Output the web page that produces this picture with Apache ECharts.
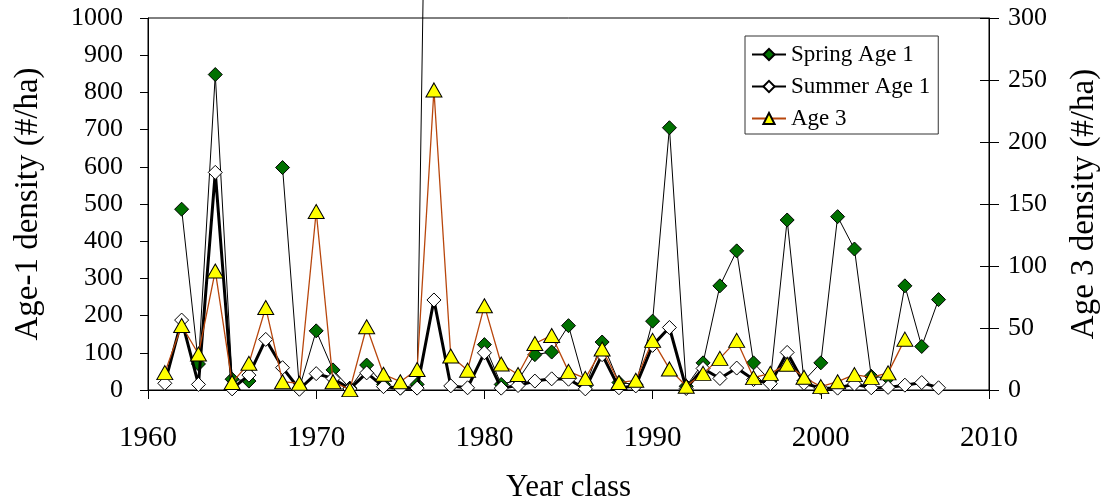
<!DOCTYPE html>
<html>
<head>
<meta charset="utf-8">
<script src="https://cdn.jsdelivr.net/npm/echarts@6/dist/echarts.min.js"></script>
<style>
  html, body { margin: 0; padding: 0; background: #fff; }
  #chart { width: 1109px; height: 502px; }
</style>
</head>
<body>
<div id="chart"></div>
<script>
// Year classes 1961..2007
const years = [1961,1962,1963,1964,1965,1966,1967,1968,1969,1970,
               1971,1972,1973,1974,1975,1976,1977,1978,1979,1980,
               1981,1982,1983,1984,1985,1986,1987,1988,1989,1990,
               1991,1992,1993,1994,1995,1996,1997,1998,1999,2000,
               2001,2002,2003,2004,2005,2006,2007];

// Spring Age 1 density (#/ha), left axis
const springAge1 = [null,486,70,848,29,24,null,598,5,159,
                    54,5,67,15,5,15,2950,null,null,122,
                    15,27,95,102,173,10,129,20,15,185,
                    705,10,73,280,374,73,25,457,25,73,
                    466,379,37,32,280,117,243];

// Summer Age 1 density (#/ha), left axis
const summerAge1 = [18,188,15,585,3,40,136,60,2,44,
                    31,3,46,9,5,5,242,11,6,100,
                    5,12,24,30,29,3,95,6,11,120,
                    168,4,58,31,59,28,17,101,18,5,
                    5,16,6,7,13,20,6];

// Age 3 density (#/ha), right axis (1961..2005)
const age3 = [14,52,29,96,6,21.5,66.5,6.7,5.4,144,
              6.7,0.3,51,12.7,6.7,16.5,242,27.4,16,68,
              21,12.5,37.5,44,15,9.4,33,6,7.8,40,
              17,3,13.4,25.5,40,10,13.4,20.7,10.3,2.7,
              6.7,12.4,10.2,13.8,41];

const xTicks = [1960, 1970, 1980, 1990, 2000, 2010];
const leftTicks = [0, 100, 1000];
const rightTicks = [0, 50, 300];

const pairs = (vals) => vals.map((v, i) => [years[i], v]);
const plain = (v) => String(v);

const FONT = "'Liberation Serif', 'Times New Roman', serif";

const chart = echarts.init(document.getElementById('chart'), null, { renderer: 'canvas' });

const option = {
  animation: false,
  backgroundColor: '#ffffff',
  textStyle: { fontFamily: FONT, color: '#000' },
  grid: {
    left: 148, right: 120, top: 18, bottom: 112,
    containLabel: false,
    outerBoundsMode: 'none',
    show: true, borderColor: '#000', borderWidth: 1, backgroundColor: 'transparent'
  },
  legend: {
    orient: 'vertical',
    left: 745, top: 36,
    backgroundColor: '#fff',
    borderColor: '#333', borderWidth: 1,
    padding: [7, 8, 4, 6],
    itemGap: 9,
    itemWidth: 34, itemHeight: 14,
    textStyle: { fontFamily: FONT, fontSize: 23, color: '#000' },
    data: ['Spring Age 1', 'Summer Age 1', 'Age 3']
  },
  xAxis: {
    type: 'value',
    min: xTicks[0], max: xTicks[xTicks.length - 1], interval: 10,
    name: 'Year class',
    nameLocation: 'middle',
    nameGap: 82,
    nameTextStyle: { fontFamily: FONT, fontSize: 31, color: '#000' },
    axisLine: { show: true, onZero: false, lineStyle: { color: '#000', width: 1 } },
    axisTick: { show: true, inside: false, length: 9, lineStyle: { color: '#000' } },
    axisLabel: { fontFamily: FONT, fontSize: 29, color: '#000', margin: 34, formatter: plain },
    splitLine: { show: false }
  },
  yAxis: [
    {
      type: 'value', position: 'left',
      min: leftTicks[0], max: leftTicks[2], interval: leftTicks[1],
      name: 'Age-1 density (#/ha)',
      nameLocation: 'middle', nameRotate: 90, nameGap: 103,
      nameTextStyle: { fontFamily: FONT, fontSize: 33, color: '#000' },
      axisLine: { show: true, lineStyle: { color: '#000', width: 1 } },
      axisTick: { show: true, inside: false, length: 8, lineStyle: { color: '#000' } },
      axisLabel: { fontFamily: FONT, fontSize: 26, color: '#000', margin: 25, formatter: plain },
      splitLine: { show: false }
    },
    {
      type: 'value', position: 'right',
      min: rightTicks[0], max: rightTicks[2], interval: rightTicks[1],
      name: 'Age 3 density (#/ha)',
      nameLocation: 'middle', nameRotate: 90, nameGap: 79,
      nameTextStyle: { fontFamily: FONT, fontSize: 33, color: '#000' },
      axisLine: { show: true, lineStyle: { color: '#000', width: 1 } },
      axisTick: { show: true, inside: false, length: 10, lineStyle: { color: '#000' } },
      axisLabel: { fontFamily: FONT, fontSize: 26, color: '#000', margin: 19, formatter: plain },
      splitLine: { show: false }
    },
    {
      type: 'value', position: 'right',
      min: rightTicks[0], max: rightTicks[2], interval: rightTicks[1],
      axisLine: { show: false },
      axisTick: { show: true, inside: true, length: 9, lineStyle: { color: '#000' } },
      axisLabel: { show: false },
      splitLine: { show: false }
    }
  ],
  series: [
    {
      name: 'Spring Age 1',
      type: 'line',
      yAxisIndex: 0,
      data: pairs(springAge1),
      clip: false,
      connectNulls: false,
      symbol: 'diamond',
      symbolSize: 14,
      lineStyle: { color: '#000', width: 1 },
      itemStyle: { color: '#007000', borderColor: '#000', borderWidth: 1 },
      z: 2
    },
    {
      name: 'Summer Age 1',
      type: 'line',
      yAxisIndex: 0,
      data: pairs(summerAge1),
      symbol: 'diamond',
      symbolSize: 14,
      lineStyle: { color: '#000', width: 3 },
      itemStyle: { color: '#fff', borderColor: '#000', borderWidth: 1 },
      z: 3
    },
    {
      name: 'Age 3',
      type: 'line',
      yAxisIndex: 1,
      data: pairs(age3),
      symbol: 'triangle',
      symbolSize: [16, 14],
      lineStyle: { color: '#b8460c', width: 1.3 },
      itemStyle: { color: '#ffff00', borderColor: '#000', borderWidth: 1 },
      z: 4
    }
  ]
};

chart.setOption(option);
</script>
</body>
</html>
